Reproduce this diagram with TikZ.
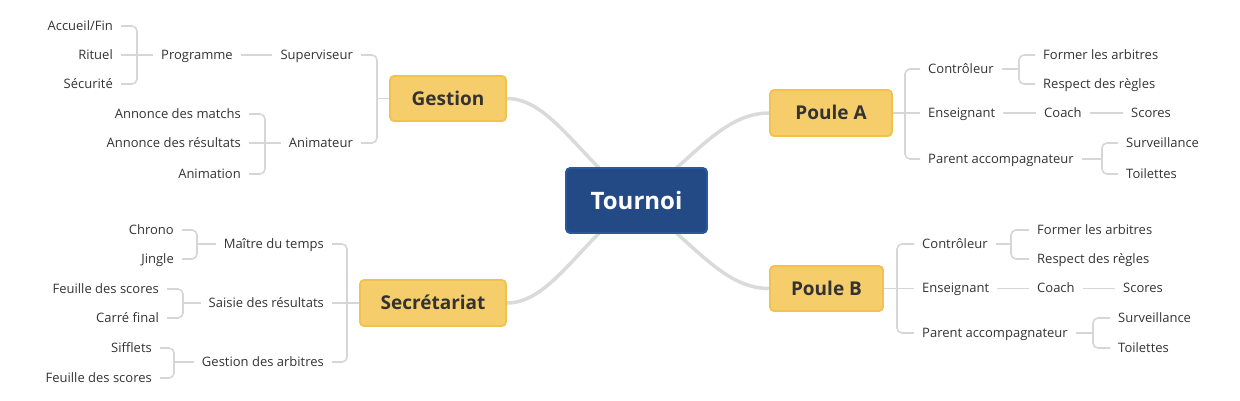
\documentclass[tikz,border=0pt]{standalone}
\usepackage{fontspec}
\setmainfont{Open Sans}
\usetikzlibrary{backgrounds}
\definecolor{rootfill}{HTML}{234A84}
\definecolor{rootbord}{HTML}{2C58A0}
\definecolor{yfill}{HTML}{F5CD6B}
\definecolor{ybord}{HTML}{F2C24F}
\definecolor{txt}{HTML}{333333}
\definecolor{mainline}{HTML}{DADADA}
\definecolor{thinline}{HTML}{D6D6D6}
\begin{document}
\begin{tikzpicture}[x=1pt,y=-1pt,
  leaf/.style={font=\fontsize{13}{15}\selectfont, text=txt, inner xsep=8pt, inner ysep=2pt, text height=8.6pt, text depth=0pt},
  topic/.style={draw=ybord, fill=yfill, line width=1.8pt, rounded corners=4pt, font=\bfseries\fontsize{19}{22}\selectfont, text=txt, text height=13.6pt, text depth=0pt, inner sep=0pt},
  rootbox/.style={draw=rootbord, fill=rootfill, line width=1.8pt, rounded corners=4pt, font=\bfseries\fontsize{24}{28}\selectfont, text=white, text height=17pt, text depth=0pt, inner sep=0pt},
  mainconn/.style={draw=mainline, line width=3.5pt},
  br/.style={draw=thinline, line width=1.6pt, rounded corners=5pt},
]
\useasboundingbox (0,0) rectangle (1240,400);

% central and main topics
\node[rootbox, minimum width=141pt, minimum height=65pt] (root) at (636.5,200.5) {Tournoi};
\node[topic, minimum width=116pt, minimum height=45pt] (gest) at (448,98.5) {Gestion};
\node[topic, minimum width=122pt, minimum height=46pt] (pa) at (831,113) {Poule A};
\node[topic, minimum width=113pt, minimum height=45pt] (pb) at (826.5,288.5) {Poule B};
\node[topic, minimum width=146pt, minimum height=46pt] (sec) at (433,303) {Secrétariat};

\begin{scope}[on background layer]
\draw[mainconn] (root.center) .. controls +(-56,-40) and +(44,0) .. (gest.east);
\draw[mainconn] (root.center) .. controls +(56,-40) and +(-47,0) .. (pa.west);
\draw[mainconn] (root.center) .. controls +(56,40) and +(-47,0) .. (pb.west);
\draw[mainconn] (root.center) .. controls +(-56,40) and +(44,0) .. (sec.east);
\end{scope}

% ---------- Gestion ----------
\node[leaf,anchor=east] (sup) at (361,55) {Superviseur};
\node[leaf,anchor=east] (anim) at (361,143) {Animateur};
\node[leaf,anchor=east] (prog) at (241,55) {Programme};
\node[leaf,anchor=east] (acc) at (121,26) {Accueil/Fin};
\node[leaf,anchor=east] (rit) at (121,55) {Rituel};
\node[leaf,anchor=east] (secu) at (121,84) {Sécurité};
\node[leaf,anchor=east] (am) at (249,114) {Annonce des matchs};
\node[leaf,anchor=east] (ar) at (249,143) {Annonce des résultats};
\node[leaf,anchor=east] (ani) at (249,174) {Animation};

\coordinate (bG) at (377,98.5);
\coordinate (bP) at (137,55);
\coordinate (bA) at (265,143);
\draw[br] (gest.west) -- (bG);
\draw[br] (bG) |- (sup.east);
\draw[br] (bG) |- (anim.east);
\draw[br] (sup.west) -- (prog.east);
\draw[br] (prog.west) -- (bP);
\draw[br] (bP) |- (acc.east);
\draw[br] (bP) -- (rit.east);
\draw[br] (bP) |- (secu.east);
\draw[br] (anim.west) -- (bA);
\draw[br] (bA) |- (am.east);
\draw[br] (bA) -- (ar.east);
\draw[br] (bA) |- (ani.east);

% ---------- Secretariat ----------
\node[leaf,anchor=east] (mt) at (332,244) {Maître du temps};
\node[leaf,anchor=east] (sr) at (332,303) {Saisie des résultats};
\node[leaf,anchor=east] (ga) at (332,362) {Gestion des arbitres};
\node[leaf,anchor=east] (chr) at (182,230) {Chrono};
\node[leaf,anchor=east] (jin) at (182,259) {Jingle};
\node[leaf,anchor=east] (fs1) at (167,289) {Feuille des scores};
\node[leaf,anchor=east] (cf) at (167,318) {Carré final};
\node[leaf,anchor=east] (sif) at (160,348) {Sifflets};
\node[leaf,anchor=east] (fs2) at (160,378) {Feuille des scores};

\coordinate (bS) at (347,303);
\coordinate (bM) at (197,244);
\coordinate (bR) at (183,303);
\coordinate (bGA) at (174,362);
\draw[br] (sec.west) -- (bS);
\draw[br] (bS) |- (mt.east);
\draw[br] (bS) -- (sr.east);
\draw[br] (bS) |- (ga.east);
\draw[br] (mt.west) -- (bM);
\draw[br] (bM) |- (chr.east);
\draw[br] (bM) |- (jin.east);
\draw[br] (sr.west) -- (bR);
\draw[br] (bR) |- (fs1.east);
\draw[br] (bR) |- (cf.east);
\draw[br] (ga.west) -- (bGA);
\draw[br] (bGA) |- (sif.east);
\draw[br] (bGA) |- (fs2.east);

% ---------- Poule A ----------
\node[leaf,anchor=west] (ca) at (920,69) {Contrôleur};
\node[leaf,anchor=west] (ea) at (920,113) {Enseignant};
\node[leaf,anchor=west] (pra) at (920,159) {Parent accompagnateur};
\node[leaf,anchor=west] (fa) at (1035,55) {Former les arbitres};
\node[leaf,anchor=west] (ra) at (1035,84) {Respect des règles};
\node[leaf,anchor=west] (coa) at (1036,113) {Coach};
\node[leaf,anchor=west] (sca) at (1123,113) {Scores};
\node[leaf,anchor=west] (sva) at (1118,143) {Surveillance};
\node[leaf,anchor=west] (toa) at (1118,174) {Toilettes};

\coordinate (bPA) at (905,113);
\coordinate (bCA) at (1019,69);
\coordinate (bPrA) at (1102,159);
\draw[br] (pa.east) -- (bPA);
\draw[br] (bPA) |- (ca.west);
\draw[br] (bPA) -- (ea.west);
\draw[br] (bPA) |- (pra.west);
\draw[br] (ca.east) -- (bCA);
\draw[br] (bCA) |- (fa.west);
\draw[br] (bCA) |- (ra.west);
\draw[br] (ea.east) -- (coa.west);
\draw[br] (coa.east) -- (sca.west);
\draw[br] (pra.east) -- (bPrA);
\draw[br] (bPrA) |- (sva.west);
\draw[br] (bPrA) |- (toa.west);

% ---------- Poule B ----------
\node[leaf,anchor=west] (cb) at (914,244) {Contrôleur};
\node[leaf,anchor=west] (eb) at (914,288.5) {Enseignant};
\node[leaf,anchor=west] (prb) at (914,333) {Parent accompagnateur};
\node[leaf,anchor=west] (fb) at (1029,230) {Former les arbitres};
\node[leaf,anchor=west] (rb) at (1029,259) {Respect des règles};
\node[leaf,anchor=west] (cob) at (1029,288.5) {Coach};
\node[leaf,anchor=west] (scb) at (1115,288.5) {Scores};
\node[leaf,anchor=west] (svb) at (1110,318) {Surveillance};
\node[leaf,anchor=west] (tob) at (1110,348) {Toilettes};

\coordinate (bPB) at (897,288.5);
\coordinate (bCB) at (1011,244);
\coordinate (bPrB) at (1093,333);
\draw[br] (pb.east) -- (bPB);
\draw[br] (bPB) |- (cb.west);
\draw[br] (bPB) -- (eb.west);
\draw[br] (bPB) |- (prb.west);
\draw[br] (cb.east) -- (bCB);
\draw[br] (bCB) |- (fb.west);
\draw[br] (bCB) |- (rb.west);
\draw[br] (eb.east) -- (cob.west);
\draw[br] (cob.east) -- (scb.west);
\draw[br] (prb.east) -- (bPrB);
\draw[br] (bPrB) |- (svb.west);
\draw[br] (bPrB) |- (tob.west);
\end{tikzpicture}
\end{document}
